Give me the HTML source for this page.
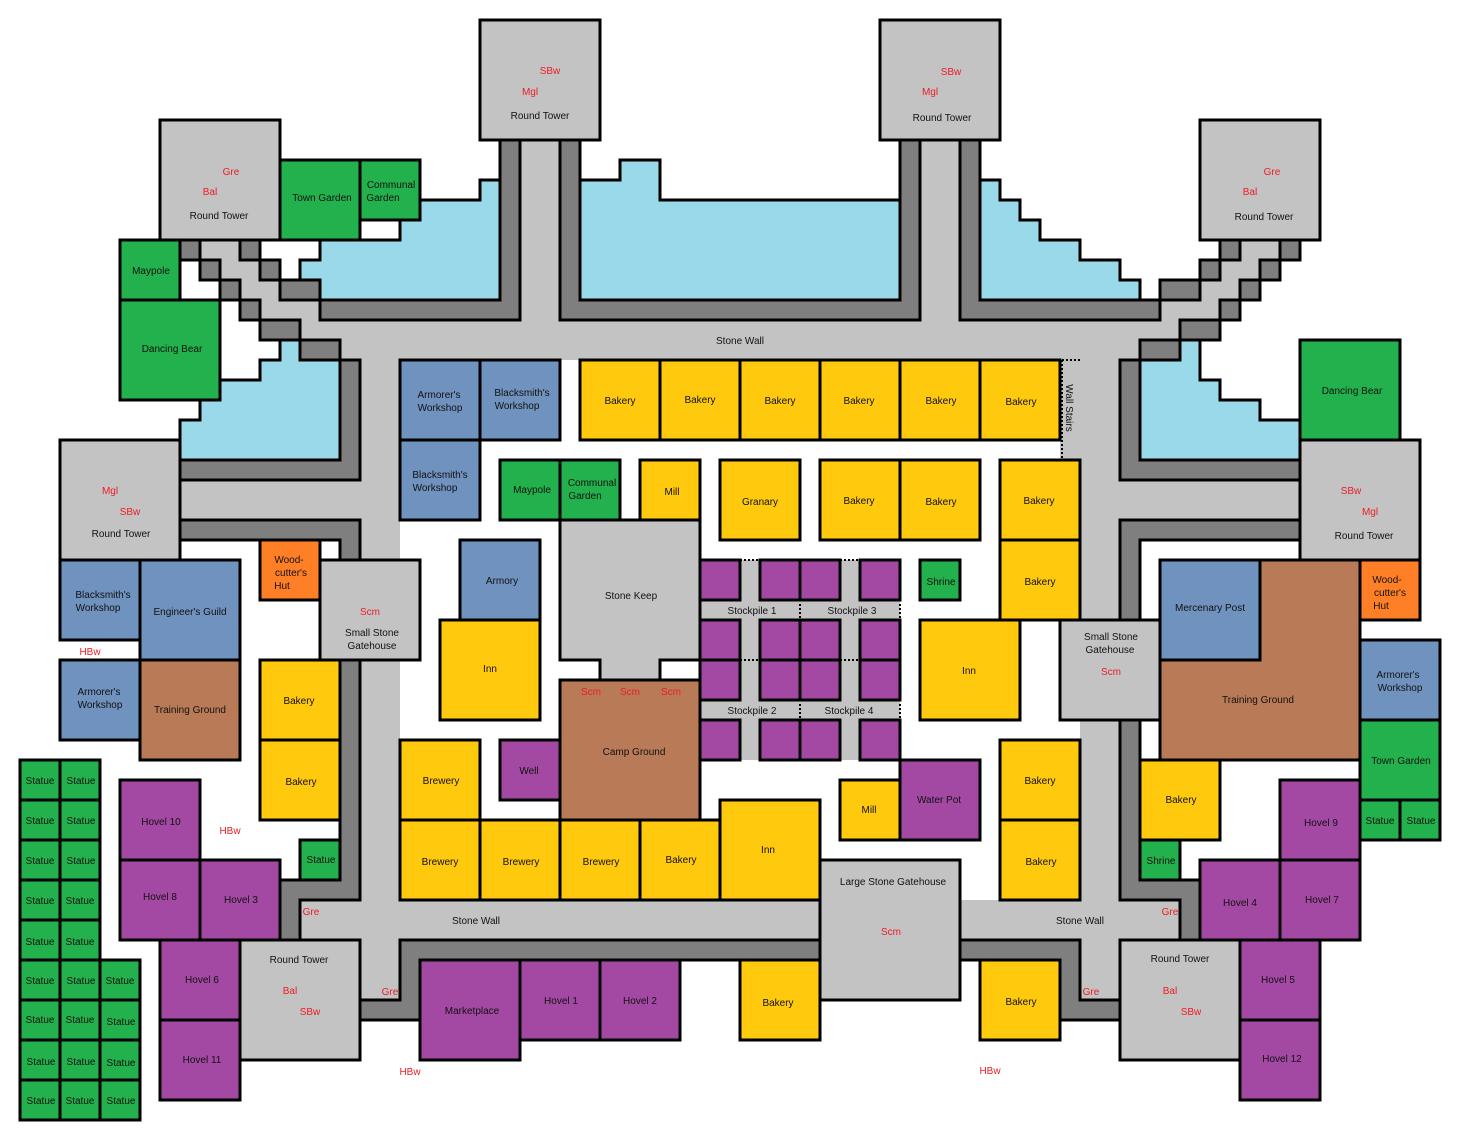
<!DOCTYPE html>
<html><head><meta charset="utf-8"><style>
html,body{margin:0;padding:0;background:#fff}
svg{display:block}
text{font-family:"Liberation Sans",sans-serif;font-size:10px;fill:#111;text-anchor:middle}
.r{fill:#ed1c24}
</style></head><body>
<svg width="1460" height="1140" viewBox="0 0 1460 1140" xmlns="http://www.w3.org/2000/svg">
<rect width="1460" height="1140" fill="#fff"/>
<g fill="#c3c3c3">
<rect x="520" y="140" width="40" height="220"/>
<rect x="920" y="140" width="40" height="220"/>
<rect x="300" y="320" width="880" height="40"/>
<rect x="200" y="240" width="40" height="20"/><rect x="220" y="260" width="40" height="20"/>
<rect x="240" y="280" width="40" height="20"/><rect x="260" y="300" width="60" height="20"/>
<rect x="1240" y="240" width="40" height="20"/><rect x="1220" y="260" width="40" height="20"/>
<rect x="1200" y="280" width="40" height="20"/><rect x="1160" y="300" width="60" height="20"/>
<rect x="360" y="360" width="40" height="640"/>
<rect x="180" y="480" width="180" height="40"/>
<rect x="1060" y="360" width="60" height="100"/>
<rect x="1080" y="360" width="40" height="640"/>
<rect x="1120" y="480" width="180" height="40"/>
<rect x="300" y="900" width="880" height="40"/>
<rect x="700" y="560" width="200" height="200"/>
</g>
<g stroke="#000" stroke-width="3">
<g fill="#99d9ea">
<polygon points="480,180 500,180 500,300 320,300 320,280 300,280 300,260 320,260 320,240 400,240 400,220 420,220 420,200 480,200"/>
<polygon points="580,180 620,180 620,160 660,160 660,200 900,200 900,300 580,300"/>
<polygon points="980,180 1000,180 1000,200 1020,200 1020,220 1040,220 1040,240 1080,240 1080,260 1120,260 1120,280 1140,280 1140,300 980,300"/>
<polygon points="280,340 300,340 300,360 340,360 340,460 180,460 180,420 200,420 200,400 220,400 220,380 260,380 260,360 280,360"/>
<polygon points="1180,340 1200,340 1200,380 1220,380 1220,400 1260,400 1260,420 1300,420 1300,460 1140,460 1140,360 1180,360"/>
</g>
<g fill="#7f7f7f">
<polygon points="500,140 520,140 520,320 320,320 320,300 500,300"/>
<polygon points="560,140 580,140 580,300 900,300 900,140 920,140 920,320 560,320"/>
<polygon points="960,140 980,140 980,300 1160,300 1160,320 960,320"/>
<rect x="180" y="240" width="20" height="20"/><rect x="200" y="260" width="20" height="20"/>
<rect x="220" y="280" width="20" height="20"/><rect x="240" y="300" width="20" height="20"/>
<rect x="260" y="320" width="40" height="20"/><rect x="300" y="340" width="40" height="20"/>
<rect x="240" y="240" width="20" height="20"/><rect x="260" y="260" width="20" height="20"/>
<rect x="280" y="280" width="40" height="20"/>
<polygon points="340,360 360,360 360,480 180,480 180,460 340,460"/>
<polygon points="180,520 360,520 360,560 340,560 340,540 180,540"/>
<polygon points="340,660 360,660 360,900 300,900 300,940 280,940 280,880 340,880"/>
<polygon points="400,940 820,940 820,960 420,960 420,1020 360,1020 360,1000 400,1000"/>
<polygon points="960,940 1080,940 1080,1000 1120,1000 1120,1020 1060,1020 1060,960 960,960"/>
<polygon points="1120,720 1140,720 1140,880 1200,880 1200,940 1180,940 1180,900 1120,900"/>
<polygon points="1120,520 1300,520 1300,540 1140,540 1140,620 1120,620"/>
<polygon points="1120,360 1140,360 1140,460 1300,460 1300,480 1120,480"/>
<rect x="1220" y="240" width="20" height="20"/><rect x="1280" y="240" width="20" height="20"/>
<rect x="1200" y="260" width="20" height="20"/><rect x="1260" y="260" width="20" height="20"/>
<rect x="1160" y="280" width="40" height="20"/><rect x="1240" y="280" width="20" height="20"/>
<rect x="1220" y="300" width="20" height="20"/><rect x="1180" y="320" width="40" height="20"/>
<rect x="1140" y="340" width="40" height="20"/>
</g>
<g fill="#c3c3c3">
<rect x="480" y="20" width="120" height="120"/><rect x="880" y="20" width="120" height="120"/>
<rect x="160" y="120" width="120" height="120"/><rect x="1200" y="120" width="120" height="120"/>
<rect x="60" y="440" width="120" height="120"/><rect x="1300" y="440" width="120" height="120"/>
<rect x="240" y="940" width="120" height="120"/><rect x="1120" y="940" width="120" height="120"/>
<rect x="320" y="560" width="100" height="100"/><rect x="1060" y="620" width="100" height="100"/>
<rect x="820" y="860" width="140" height="140"/>
<polygon points="560,520 700,520 700,660 660,660 660,680 600,680 600,660 560,660"/>
</g>
<g fill="#22b14c">
<rect x="280" y="160" width="80" height="80"/><rect x="360" y="160" width="60" height="60"/>
<rect x="120" y="240" width="60" height="60"/><rect x="120" y="300" width="100" height="100"/>
<rect x="1300" y="340" width="100" height="100"/>
<rect x="500" y="460" width="60" height="60"/><rect x="560" y="460" width="60" height="60"/>
<rect x="920" y="560" width="40" height="40"/><rect x="300" y="840" width="40" height="40"/>
<rect x="1140" y="840" width="40" height="40"/><rect x="1360" y="720" width="80" height="80"/>
<rect x="1360" y="800" width="40" height="40"/><rect x="1400" y="800" width="40" height="40"/>
<rect x="20" y="760" width="40" height="40"/><rect x="60" y="760" width="40" height="40"/>
<rect x="20" y="800" width="40" height="40"/><rect x="60" y="800" width="40" height="40"/>
<rect x="20" y="840" width="40" height="40"/><rect x="60" y="840" width="40" height="40"/>
<rect x="20" y="880" width="40" height="40"/><rect x="60" y="880" width="40" height="40"/>
<rect x="20" y="920" width="40" height="40"/><rect x="60" y="920" width="40" height="40"/>
<rect x="20" y="960" width="40" height="40"/><rect x="60" y="960" width="40" height="40"/><rect x="100" y="960" width="40" height="40"/>
<rect x="20" y="1000" width="40" height="40"/><rect x="60" y="1000" width="40" height="40"/><rect x="100" y="1000" width="40" height="40"/>
<rect x="20" y="1040" width="40" height="40"/><rect x="60" y="1040" width="40" height="40"/><rect x="100" y="1040" width="40" height="40"/>
<rect x="20" y="1080" width="40" height="40"/><rect x="60" y="1080" width="40" height="40"/><rect x="100" y="1080" width="40" height="40"/>
</g>
<g fill="#7092be">
<rect x="400" y="360" width="80" height="80"/><rect x="480" y="360" width="80" height="80"/>
<rect x="400" y="440" width="80" height="80"/><rect x="460" y="540" width="80" height="80"/>
<rect x="60" y="560" width="80" height="80"/><rect x="140" y="560" width="100" height="100"/>
<rect x="60" y="660" width="80" height="80"/><rect x="1360" y="640" width="80" height="80"/>
</g>
<g fill="#b97a57">
<rect x="140" y="660" width="100" height="100"/><rect x="560" y="680" width="140" height="140"/>
<polygon points="1260,560 1360,560 1360,760 1160,760 1160,660 1260,660"/>
</g>
<rect x="1160" y="560" width="100" height="100" fill="#7092be"/>
<g fill="#ff7f27">
<rect x="260" y="540" width="60" height="60"/><rect x="1360" y="560" width="60" height="60"/>
</g>
<g fill="#ffc90e">
<rect x="580" y="360" width="80" height="80"/><rect x="660" y="360" width="80" height="80"/>
<rect x="740" y="360" width="80" height="80"/><rect x="820" y="360" width="80" height="80"/>
<rect x="900" y="360" width="80" height="80"/><rect x="980" y="360" width="80" height="80"/>
<rect x="640" y="460" width="60" height="60"/><rect x="720" y="460" width="80" height="80"/>
<rect x="820" y="460" width="80" height="80"/><rect x="900" y="460" width="80" height="80"/>
<rect x="1000" y="460" width="80" height="80"/><rect x="1000" y="540" width="80" height="80"/>
<rect x="440" y="620" width="100" height="100"/><rect x="920" y="620" width="100" height="100"/>
<rect x="260" y="660" width="80" height="80"/><rect x="260" y="740" width="80" height="80"/>
<rect x="400" y="740" width="80" height="80"/>
<rect x="400" y="820" width="80" height="80"/><rect x="480" y="820" width="80" height="80"/>
<rect x="560" y="820" width="80" height="80"/><rect x="640" y="820" width="80" height="80"/>
<rect x="720" y="800" width="100" height="100"/><rect x="840" y="780" width="60" height="60"/>
<rect x="1000" y="740" width="80" height="80"/><rect x="1000" y="820" width="80" height="80"/>
<rect x="1140" y="760" width="80" height="80"/>
<rect x="740" y="960" width="80" height="80"/><rect x="980" y="960" width="80" height="80"/>
</g>
<g fill="#a349a4">
<rect x="500" y="740" width="60" height="60"/><rect x="900" y="760" width="80" height="80"/>
<rect x="120" y="780" width="80" height="80"/><rect x="120" y="860" width="80" height="80"/>
<rect x="200" y="860" width="80" height="80"/><rect x="160" y="940" width="80" height="80"/>
<rect x="160" y="1020" width="80" height="80"/>
<rect x="420" y="960" width="100" height="100"/><rect x="520" y="960" width="80" height="80"/>
<rect x="600" y="960" width="80" height="80"/>
<rect x="1280" y="780" width="80" height="80"/><rect x="1200" y="860" width="80" height="80"/>
<rect x="1280" y="860" width="80" height="80"/><rect x="1240" y="940" width="80" height="80"/>
<rect x="1240" y="1020" width="80" height="80"/>
<rect x="700" y="560" width="40" height="40"/><rect x="760" y="560" width="40" height="40"/><rect x="800" y="560" width="40" height="40"/><rect x="860" y="560" width="40" height="40"/>
<rect x="700" y="620" width="40" height="40"/><rect x="760" y="620" width="40" height="40"/><rect x="800" y="620" width="40" height="40"/><rect x="860" y="620" width="40" height="40"/>
<rect x="700" y="660" width="40" height="40"/><rect x="760" y="660" width="40" height="40"/><rect x="800" y="660" width="40" height="40"/><rect x="860" y="660" width="40" height="40"/>
<rect x="700" y="720" width="40" height="40"/><rect x="760" y="720" width="40" height="40"/><rect x="800" y="720" width="40" height="40"/><rect x="860" y="720" width="40" height="40"/>
</g>
</g>
<g stroke="#000" stroke-width="2" stroke-dasharray="2,2" fill="none">
<path d="M1062,360 H1080 M1062,360 V460"/>
<path d="M740,560 H760 M840,560 H860 M740,660 H760 M840,660 H860 M700,604 V618 M800,604 V618 M900,604 V618 M700,704 V718 M800,704 V718 M900,704 V718"/>
<path d="M620,680 H640 M880,860 H900 M880,1000 H900 M320,600 V620 M420,600 V620 M1060,660 V680 M1160,660 V680"/>
</g>
<text x="550" y="74" class="r">SBw</text><text x="530" y="95" class="r">Mgl</text><text x="540" y="119">Round Tower</text>
<text x="951" y="75" class="r">SBw</text><text x="930" y="95" class="r">Mgl</text><text x="942" y="121">Round Tower</text>
<text x="231" y="175" class="r">Gre</text><text x="210" y="195" class="r">Bal</text><text x="219" y="219">Round Tower</text>
<text x="1272" y="175" class="r">Gre</text><text x="1250" y="195" class="r">Bal</text><text x="1264" y="220">Round Tower</text>
<text x="110" y="494" class="r">Mgl</text><text x="130" y="515" class="r">SBw</text><text x="121" y="537">Round Tower</text>
<text x="1351" y="494" class="r">SBw</text><text x="1370" y="515" class="r">Mgl</text><text x="1364" y="539">Round Tower</text>
<text x="299" y="963">Round Tower</text><text x="290" y="994" class="r">Bal</text><text x="310" y="1015" class="r">SBw</text>
<text x="1180" y="962">Round Tower</text><text x="1170" y="994" class="r">Bal</text><text x="1191" y="1015" class="r">SBw</text>
<text x="370" y="615" class="r">Scm</text><text x="372" y="636">Small Stone</text><text x="372" y="649">Gatehouse</text>
<text x="1111" y="640">Small Stone</text><text x="1110" y="653">Gatehouse</text><text x="1111" y="675" class="r">Scm</text>
<text x="893" y="885">Large Stone Gatehouse</text><text x="891" y="935" class="r">Scm</text>
<text x="740" y="344">Stone Wall</text><text x="476" y="924">Stone Wall</text><text x="1080" y="924">Stone Wall</text>
<text x="90" y="655" class="r">HBw</text><text x="230" y="834" class="r">HBw</text><text x="410" y="1075" class="r">HBw</text><text x="990" y="1074" class="r">HBw</text>
<text x="311" y="915" class="r">Gre</text><text x="390" y="995" class="r">Gre</text><text x="1170" y="915" class="r">Gre</text><text x="1091" y="995" class="r">Gre</text>
<text x="591" y="695" class="r">Scm</text><text x="630" y="695" class="r">Scm</text><text x="671" y="695" class="r">Scm</text>
<text x="322" y="201">Town Garden</text><text x="391" y="188">Communal</text><text x="383" y="201">Garden</text>
<text x="151" y="274">Maypole</text><text x="172" y="352">Dancing Bear</text><text x="1352" y="394">Dancing Bear</text>
<text x="439" y="398">Armorer's</text><text x="440" y="411">Workshop</text>
<text x="522" y="396">Blacksmith's</text><text x="517" y="409">Workshop</text>
<text x="440" y="478">Blacksmith's</text><text x="435" y="491">Workshop</text>
<text x="532" y="493">Maypole</text><text x="592" y="486">Communal</text><text x="585" y="499">Garden</text>
<text x="672" y="495">Mill</text><text x="760" y="505">Granary</text>
<text x="620" y="404">Bakery</text><text x="700" y="403">Bakery</text><text x="780" y="404">Bakery</text><text x="859" y="404">Bakery</text><text x="941" y="404">Bakery</text><text x="1021" y="405">Bakery</text>
<text x="859" y="504">Bakery</text><text x="941" y="505">Bakery</text><text x="1039" y="504">Bakery</text><text x="1040" y="585">Bakery</text>
<text transform="translate(1066,408) rotate(90)">Wall Stairs</text>
<text x="631" y="599">Stone Keep</text><text x="502" y="584">Armory</text><text x="490" y="672">Inn</text><text x="634" y="755">Camp Ground</text>
<text x="752" y="614">Stockpile 1</text><text x="852" y="614">Stockpile 3</text><text x="752" y="714">Stockpile 2</text><text x="849" y="714">Stockpile 4</text>
<text x="941" y="585">Shrine</text><text x="969" y="674">Inn</text>
<text x="103" y="598">Blacksmith's</text><text x="98" y="611">Workshop</text><text x="190" y="615">Engineer's Guild</text>
<text x="99" y="695">Armorer's</text><text x="100" y="708">Workshop</text><text x="190" y="713">Training Ground</text>
<text x="289" y="563">Wood-</text><text x="291" y="576">cutter's</text><text x="282" y="589">Hut</text>
<text x="1210" y="611">Mercenary Post</text><text x="1258" y="703">Training Ground</text>
<text x="1387" y="583">Wood-</text><text x="1390" y="596">cutter's</text><text x="1381" y="609">Hut</text>
<text x="1398" y="678">Armorer's</text><text x="1400" y="691">Workshop</text><text x="1401" y="764">Town Garden</text>
<text x="1380" y="824">Statue</text><text x="1421" y="824">Statue</text>
<text x="299" y="704">Bakery</text><text x="301" y="785">Bakery</text><text x="321" y="863">Statue</text>
<text x="441" y="784">Brewery</text><text x="529" y="774">Well</text>
<text x="440" y="865">Brewery</text><text x="521" y="865">Brewery</text><text x="601" y="865">Brewery</text><text x="681" y="863">Bakery</text><text x="768" y="853">Inn</text>
<text x="869" y="813">Mill</text><text x="939" y="803">Water Pot</text>
<text x="1040" y="784">Bakery</text><text x="1041" y="865">Bakery</text><text x="1181" y="803">Bakery</text><text x="1161" y="864">Shrine</text>
<text x="161" y="825">Hovel 10</text><text x="160" y="900">Hovel 8</text><text x="241" y="903">Hovel 3</text>
<text x="202" y="983">Hovel 6</text><text x="202" y="1063">Hovel 11</text>
<text x="472" y="1014">Marketplace</text><text x="561" y="1004">Hovel 1</text><text x="640" y="1004">Hovel 2</text>
<text x="778" y="1006">Bakery</text><text x="1021" y="1005">Bakery</text>
<text x="1321" y="826">Hovel 9</text><text x="1240" y="906">Hovel 4</text><text x="1322" y="903">Hovel 7</text>
<text x="1278" y="983">Hovel 5</text><text x="1282" y="1062">Hovel 12</text>
<g>
<text x="40" y="784">Statue</text><text x="81" y="784">Statue</text>
<text x="40" y="824">Statue</text><text x="81" y="824">Statue</text>
<text x="40" y="864">Statue</text><text x="81" y="864">Statue</text>
<text x="40" y="904">Statue</text><text x="80" y="904">Statue</text>
<text x="40" y="945">Statue</text><text x="80" y="945">Statue</text>
<text x="40" y="984">Statue</text><text x="81" y="984">Statue</text><text x="120" y="984">Statue</text>
<text x="40" y="1023">Statue</text><text x="80" y="1023">Statue</text><text x="121" y="1025">Statue</text>
<text x="41" y="1065">Statue</text><text x="81" y="1065">Statue</text><text x="121" y="1066">Statue</text>
<text x="41" y="1104">Statue</text><text x="80" y="1104">Statue</text><text x="121" y="1104">Statue</text>
</g>
</svg>
</body></html>
